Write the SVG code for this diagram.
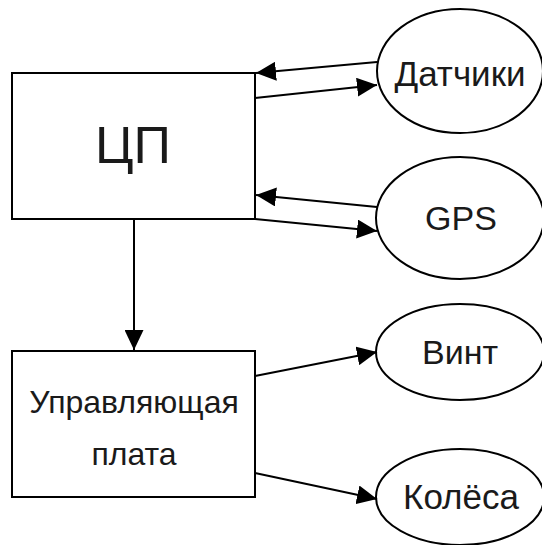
<svg xmlns="http://www.w3.org/2000/svg" width="542" height="545" viewBox="0 0 542 545">
<defs>
<marker id="ah" markerUnits="userSpaceOnUse" markerWidth="20" markerHeight="19" refX="20" refY="9.5" orient="auto">
<path d="M0,0 L20,9.5 L0,19 Z" fill="#000"/>
</marker>
<style>
.n{fill:#fff;stroke:#000;stroke-width:2}
.t{font-family:"Liberation Sans",Arial,sans-serif;fill:#1a1a1a;text-anchor:middle}
.c line{stroke:#000;stroke-width:2;marker-end:url(#ah)}
</style>
</defs>
<rect width="542" height="545" fill="#fff"/>
<g id="cpu"><rect class="n" x="12" y="73" width="243" height="146"/><text class="t" x="133" y="163" font-size="52">ЦП</text></g>
<g id="board"><rect class="n" x="12" y="351" width="243" height="146"/><text class="t" x="134" y="413" font-size="32">Управляющая</text><text class="t" x="134" y="465" font-size="32">плата</text></g>
<g id="sensors"><ellipse class="n" cx="460" cy="71" rx="83" ry="62"/><text class="t" x="460" y="86" font-size="35">Датчики</text></g>
<g id="gps"><ellipse class="n" cx="460" cy="218" rx="84" ry="61"/><text class="t" x="461" y="230" font-size="34">GPS</text></g>
<g id="screw"><ellipse class="n" cx="460" cy="352" rx="84" ry="48"/><text class="t" x="460" y="364" font-size="34">Винт</text></g>
<g id="wheels"><ellipse class="n" cx="460" cy="497" rx="84" ry="48"/><text class="t" x="461" y="509" font-size="35">Колёса</text></g>
<g id="connectors" class="c">
<line x1="377" y1="62" x2="256" y2="73"/>
<line x1="255" y1="98" x2="377" y2="85"/>
<line x1="377" y1="207" x2="256" y2="195"/>
<line x1="255" y1="219" x2="377" y2="231"/>
<line x1="134" y1="219" x2="134" y2="350"/>
<line x1="255" y1="376" x2="377" y2="352"/>
<line x1="255" y1="473" x2="377" y2="499"/>
</g>
</svg>
